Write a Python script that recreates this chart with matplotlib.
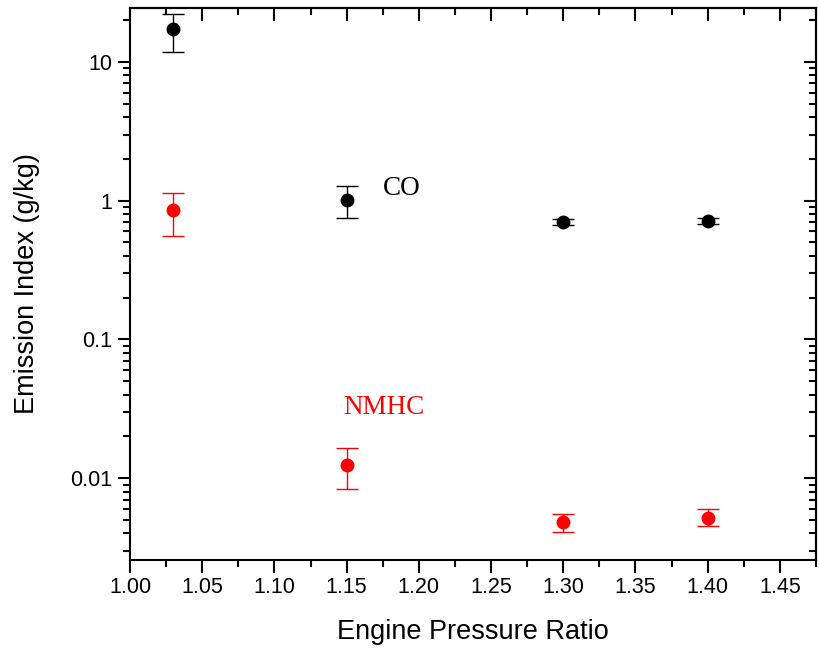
import numpy as np
import matplotlib
matplotlib.use("Agg")
import matplotlib.pyplot as plt
from matplotlib.ticker import MultipleLocator, LogLocator, FixedLocator, FixedFormatter, NullFormatter

# data
epr = [1.03, 1.15, 1.30, 1.40]
co = [17.2, 1.02, 0.70, 0.71]
co_hi = [22.3, 1.28, 0.735, 0.745]
co_lo = [11.8, 0.75, 0.665, 0.675]
nmhc = [0.85, 0.0124, 0.0048, 0.0052]
nmhc_hi = [1.136, 0.0165, 0.0055, 0.0060]
nmhc_lo = [0.557, 0.0083, 0.0041, 0.0045]
ytick_vals = [0.01, 0.1, 1, 10]
ytick_text = ['0.01', '0.1', '1', '10']

plt.rcParams['font.family'] = ['Liberation Sans', 'DejaVu Sans']

def main():
    fig = plt.figure(figsize=(8.19, 6.49), dpi=100)
    ax = fig.add_axes([0.1587, 0.1371, 0.8376, 0.8506])

    co_err = [np.array(co) - np.array(co_lo), np.array(co_hi) - np.array(co)]
    nm_err = [np.array(nmhc) - np.array(nmhc_lo), np.array(nmhc_hi) - np.array(nmhc)]
    ax.errorbar(epr, co, yerr=co_err, fmt='o', color='black', ms=9,
                capsize=8, elinewidth=1, capthick=1)
    ax.errorbar(epr, nmhc, yerr=nm_err, fmt='o', color='red', ms=9,
                capsize=8, elinewidth=1, capthick=1)

    ax.set_yscale('log')
    ax.set_xlim(1.0, 1.475)
    ax.set_ylim(0.00257, 24.5)

    ax.xaxis.set_major_locator(MultipleLocator(0.05))
    ax.xaxis.set_minor_locator(MultipleLocator(0.025))
    ax.xaxis.set_major_formatter(plt.FormatStrFormatter('%.2f'))
    ax.yaxis.set_major_locator(FixedLocator(ytick_vals))
    ax.yaxis.set_major_formatter(FixedFormatter(ytick_text))
    ax.yaxis.set_minor_locator(LogLocator(base=10, subs=np.arange(2, 10)))
    ax.yaxis.set_minor_formatter(NullFormatter())

    for s in ax.spines.values():
        s.set_linewidth(1.5)
    ax.tick_params(which='both', direction='out', width=1.5, labelsize=15.5,
                   top=False, right=False)
    ax.tick_params(which='major', length=9)
    ax.tick_params(which='minor', length=5)

    # mirrored inward ticks on top and right
    ax_top = ax.secondary_xaxis('top')
    ax_top.xaxis.set_major_locator(MultipleLocator(0.05))
    ax_top.xaxis.set_minor_locator(MultipleLocator(0.025))
    ax_top.tick_params(which='both', direction='in', width=1.5, labeltop=False)
    ax_top.tick_params(which='major', length=9)
    ax_top.tick_params(which='minor', length=5)
    ax_top.spines['top'].set_linewidth(1.5)
    ax_right = ax.secondary_yaxis('right')
    ax_right.yaxis.set_major_locator(FixedLocator(ytick_vals))
    ax_right.yaxis.set_minor_locator(LogLocator(base=10, subs=np.arange(2, 10)))
    ax_right.tick_params(which='both', direction='in', width=1.5, labelright=False)
    ax_right.tick_params(which='major', length=9)
    ax_right.tick_params(which='minor', length=5)
    ax_right.spines['right'].set_linewidth(1.5)

    ax.set_xlabel('Engine Pressure Ratio', fontsize=19.5, labelpad=15)
    ax.set_ylabel('Emission Index (g/kg)', fontsize=19.5, labelpad=22)

    ax.text(1.175, 1.10, 'CO', family='Liberation Serif', fontsize=19.5, color='black')
    ax.text(1.148, 0.029, 'NMHC', family='Liberation Serif', fontsize=19.5, color='red')

    fig.savefig('out.png', dpi=100)

if __name__ == '__main__':
    main()
